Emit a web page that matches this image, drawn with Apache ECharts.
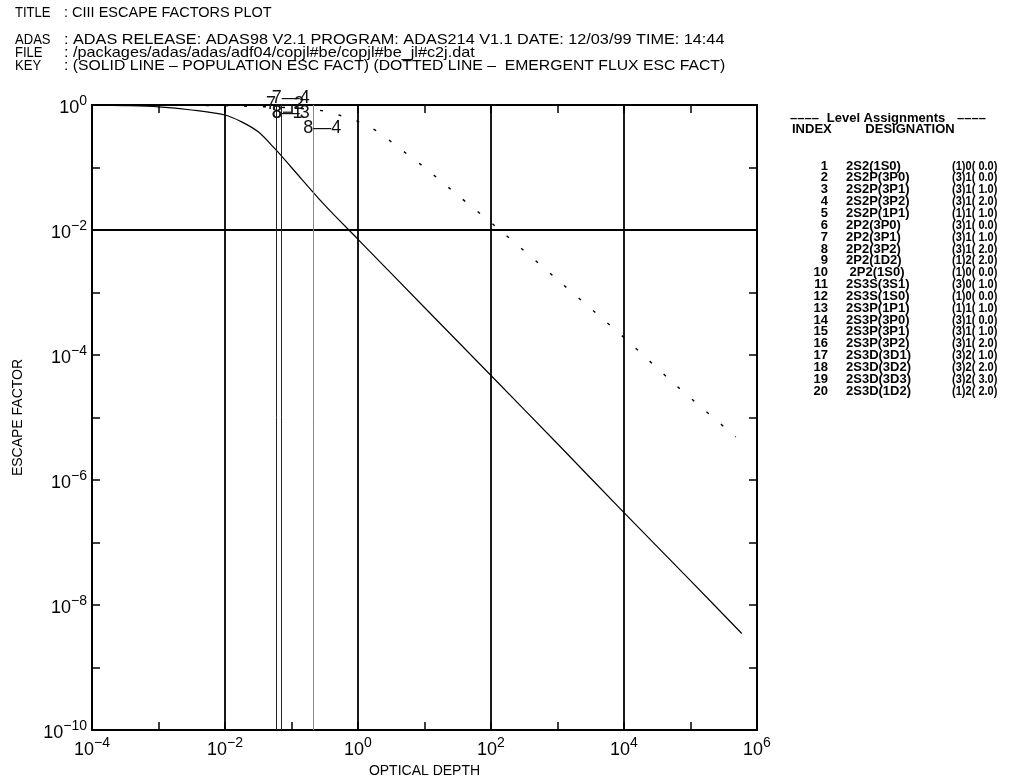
<!DOCTYPE html>
<html><head><meta charset="utf-8">
<script src="https://cdn.jsdelivr.net/npm/echarts@6/dist/echarts.min.js"></script>
<style>html,body{margin:0;padding:0;background:#fff}#c{width:1023px;height:778px}</style>
</head><body><div id="c"></div>
<script>
// ---------------- data ----------------
const headerKeys = ['TITLE', 'ADAS', 'FILE', 'KEY'];
const headerValues = [
  ': CIII ESCAPE FACTORS PLOT',
  ': ADAS RELEASE: ADAS98 V2.1 PROGRAM: ADAS214 V1.1 DATE: 12/03/99 TIME: 14:44',
  ': /packages/adas/adas/adf04/copjl#be/copjl#be_jl#c2j.dat',
  ': (SOLID LINE \u2013 POPULATION ESC FACT) (DOTTED LINE \u2013  EMERGENT FLUX ESC FACT)'
];
const xAxisName = 'OPTICAL DEPTH';
const yAxisName = 'ESCAPE FACTOR';

// solid line: population escape factor
const solidTau = [1e-4, 3.16e-4, 1e-3, 3.16e-3, 1e-2, 1.78e-2, 3.16e-2, 5.62e-2, 0.1, 0.316, 1, 10, 100, 1000, 1e4, 1e5, 5.9e5];
const solidEsc = [1.0, 0.977, 0.933, 0.832, 0.692, 0.537, 0.372, 0.20, 0.10, 0.025, 7.1e-3, 5.75e-4, 4.7e-5, 3.8e-6, 3.0e-7, 2.45e-8, 3.5e-9];
// dotted line: emergent flux escape factor
const dottedTau = [1e-4, 1e-3, 1e-2, 3.16e-2, 0.1, 0.316, 0.617, 1.15, 2.14, 3.6, 10, 31.6, 136, 1000, 1e4, 6.0e4, 4.8e5];
const dottedEsc = [1.0, 0.993, 0.973, 0.944, 0.90, 0.80, 0.65, 0.51, 0.355, 0.23, 0.1, 0.036, 0.01, 1.6e-3, 1.9e-4, 3.3e-5, 4.9e-6];

// grid decades
const gridX = [1e-2, 1, 1e2, 1e4];
const gridY = [1e-2, 1e-4, 1e-6, 1e-8];

// transition marker lines and their labels
const markTau = [0.0565, 0.0713, 0.213];
const markLabels = ['7\u20144', '7\u20142', '8\u22121', '8\u20143', '8\u20144'];
const markLabelLine = [1, 0, 0, 1, 2]; // which marker line each label belongs to

// level assignments table
const levelIndex = [1,2,3,4,5,6,7,8,9,10,11,12,13,14,15,16,17,18,19,20];
const levelDesignation = ['2S2(1S0)','2S2P(3P0)','2S2P(3P1)','2S2P(3P2)','2S2P(1P1)','2P2(3P0)','2P2(3P1)','2P2(3P2)','2P2(1D2)',' 2P2(1S0)','2S3S(3S1)','2S3S(1S0)','2S3P(1P1)','2S3P(3P0)','2S3P(3P1)','2S3P(3P2)','2S3D(3D1)','2S3D(3D2)','2S3D(3D3)','2S3D(1D2)'];
const levelQuantum = ['(1)0( 0.0)','(3)1( 0.0)','(3)1( 1.0)','(3)1( 2.0)','(1)1( 1.0)','(3)1( 0.0)','(3)1( 1.0)','(3)1( 2.0)','(1)2( 2.0)','(1)0( 0.0)','(3)0( 1.0)','(1)0( 0.0)','(1)1( 1.0)','(3)1( 0.0)','(3)1( 1.0)','(3)1( 2.0)','(3)2( 1.0)','(3)2( 2.0)','(3)2( 3.0)','(1)2( 2.0)'];
const tableTitle = 'Level Assignments';
const tableHead = ['INDEX', 'DESIGNATION'];

// ---------------- chart ----------------
const FONT = "'Liberation Sans', Arial, sans-serif";
const chart = echarts.init(document.getElementById('c'), null, {renderer: 'canvas'});

function expLabel(v) {
  const e = Math.round(Math.log10(v));
  if (e % 2 !== 0) return '';
  return '{b|10}{s|' + (e < 0 ? '\u2212' + (-e) : e) + '}';
}
const rich = {
  b: {fontSize: 18, fontFamily: FONT, color: '#000', padding: [6, 0, 0, 0], verticalAlign: 'middle'},
  s: {fontSize: 14, fontFamily: FONT, color: '#000', padding: [0, 0, 8, 0], verticalAlign: 'middle'}
};
const axisBase = {
  type: 'log', logBase: 10,
  axisLine: {show: true, onZero: false, lineStyle: {color: '#000', width: 2}},
  axisTick: {show: true, inside: true, length: 8, lineStyle: {color: '#000', width: 1.5}},
  splitLine: {show: false}, minorTick: {show: false}, minorSplitLine: {show: false}
};

const gridLine = {color: '#000', width: 1.8, type: 'solid'};
const markColors = ['#222', '#222', '#888'];

chart.setOption({
  animation: false,
  backgroundColor: '#fff',
  grid: {left: 92, top: 105, width: 665, height: 625, outerBoundsMode: 'none'},
  xAxis: [
    Object.assign({}, axisBase, {min: 1e-4, max: 1e6, interval: 1, position: 'bottom',
      axisLabel: {formatter: expLabel, rich: rich, margin: 5},
      name: xAxisName, nameLocation: 'middle', nameGap: 32,
      nameTextStyle: {fontSize: 14, fontFamily: FONT, color: '#000'}}),
    Object.assign({}, axisBase, {min: 1e-4, max: 1e6, interval: 1, position: 'top',
      axisLabel: {show: false}})
  ],
  yAxis: [
    Object.assign({}, axisBase, {min: 1e-10, max: 1, interval: 1, position: 'left',
      axisLabel: {formatter: expLabel, rich: rich, margin: 5},
      name: yAxisName, nameLocation: 'middle', nameGap: 67, nameRotate: 90,
      nameTextStyle: {fontSize: 14, fontFamily: FONT, color: '#000'}}),
    Object.assign({}, axisBase, {min: 1e-10, max: 1, interval: 1, position: 'right',
      axisLabel: {show: false}})
  ],
  series: [
    {
      type: 'line', z: 3, showSymbol: false, smooth: 0.3, silent: true,
      data: solidTau.map((t, i) => [t, solidEsc[i]]),
      lineStyle: {color: '#000', width: 1.2},
      markLine: {
        silent: true, symbol: ['none', 'none'], animation: false, label: {show: false},
        data: [].concat(
          gridX.map(v => ({xAxis: v, lineStyle: gridLine})),
          gridY.map(v => ({yAxis: v, lineStyle: gridLine})),
          markTau.map((v, i) => ({xAxis: v, lineStyle: {color: markColors[i], width: 1, type: 'solid'}}))
        )
      }
    },
    {
      type: 'line', z: 3, showSymbol: false, smooth: 0.3, silent: true,
      data: dottedTau.map((t, i) => [t, dottedEsc[i]]),
      lineStyle: {color: '#000', width: 1.4, type: [3, 16]}
    }
  ]
});

// ---------------- text overlays ----------------
function txt(x, y, text, opt) {
  opt = opt || {};
  return {
    type: 'text', x: x, y: y, z: 10, silent: true, scaleX: opt.sx || 1,
    style: {
      text: text, fill: opt.fill || '#000',
      fontSize: opt.size || 14, fontFamily: FONT, fontWeight: opt.weight || 'normal',
      align: opt.align || 'left', textAlign: opt.align || 'left',
      verticalAlign: 'middle', textVerticalAlign: 'middle'
    }
  };
}
const g = [];
const headerY = [13, 40, 53, 66];
const headerScale = [1.0, 1.12, 1.12, 1.086];
headerKeys.forEach((k, i) => {
  g.push(txt(15, headerY[i], k, {size: 14.5, sx: 0.9}));
  g.push(txt(64, headerY[i], headerValues[i], {size: 14.5, sx: headerScale[i]}));
});
// table
g.push(txt(790, 118, '\u2013\u2013\u2013\u2013', {size: 13, weight: 'bold'}));
g.push(txt(886, 118, tableTitle, {size: 13, weight: 'bold', align: 'center'}));
g.push(txt(957, 118, '\u2013\u2013\u2013\u2013', {size: 13, weight: 'bold'}));
g.push(txt(792, 129, tableHead[0], {size: 13, weight: 'bold'}));
g.push(txt(910, 129, tableHead[1], {size: 13, weight: 'bold', align: 'center'}));
levelIndex.forEach((n, i) => {
  const y = 166 + i * 11.85;
  g.push(txt(828, y, String(n), {size: 13, weight: 'bold', align: 'right'}));
  g.push(txt(846, y, levelDesignation[i], {size: 13, weight: 'bold'}));
  g.push(txt(952, y, levelQuantum[i], {size: 13, weight: 'bold', sx: 0.85}));
});
// marker labels
const labelOffset = [[-10, 98], [-9, 104], [-3, 113], [-10, 113], [-10, 128]];
markLabels.forEach((t, i) => {
  const px = chart.convertToPixel({xAxisIndex: 0}, markTau[markLabelLine[i]]);
  g.push(txt(px + labelOffset[i][0], labelOffset[i][1], t, {size: 18, fill: '#111'}));
});
chart.setOption({graphic: {elements: g}});
</script>
</body></html>
